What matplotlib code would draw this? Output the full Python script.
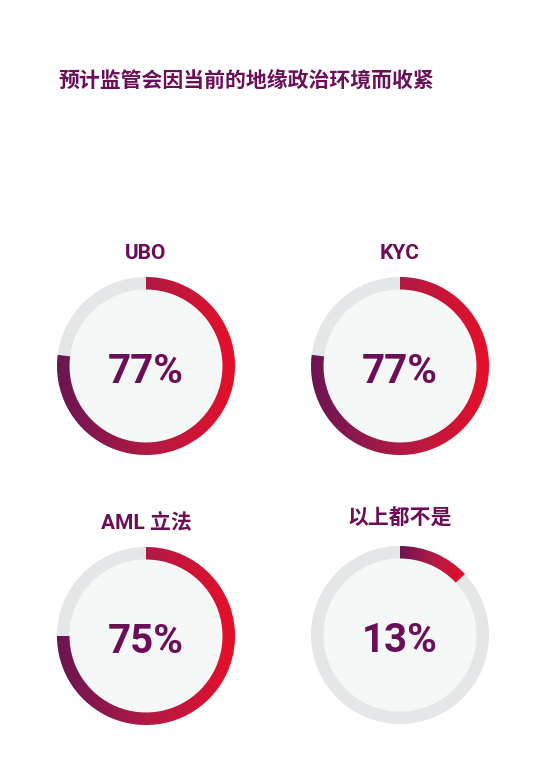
import numpy as np
import matplotlib
matplotlib.use('Agg')
import matplotlib.pyplot as plt
from matplotlib.patches import Wedge, Circle
from matplotlib.colors import LinearSegmentedColormap

plt.rcParams['font.family'] = ['Roboto', 'Noto Sans CJK SC', 'DejaVu Sans']

title = '预计监管会因当前的地缘政治环境而收紧'
labels = ['UBO', 'KYC', 'AML 立法', '以上都不是']
values = [77, 77, 75, 13]

txt_col = '#6c0e57'
ring_col = '#e5e6e8'
fill_col = '#f6f8f8'
grad = LinearSegmentedColormap.from_list('g', ['#6a1553', '#b01a45', '#e60f2a'])

centers = [(146, 366), (400, 366), (146, 636), (400, 635)]
label_y = [253, 253, 523, 519]
R, W = 89, 12.5

fig = plt.figure(figsize=(5.42, 7.84), dpi=100)
ax = fig.add_axes([0, 0, 1, 1])
ax.set_xlim(0, 542)
ax.set_ylim(784, 0)
ax.axis('off')

ax.text(58, 80, title, fontsize=15, fontweight='bold', color=txt_col,
        ha='left', va='center')

for (cx, cy), ly, lab, v in zip(centers, label_y, labels, values):
    ax.add_patch(Circle((cx, cy), R - W, color=fill_col, lw=0, zorder=1))
    ax.add_patch(Wedge((cx, cy), R, 0, 360, width=W, color=ring_col, lw=0, zorder=1))
    t1, t2 = -90, -90 + 360 * v / 100
    wedge = Wedge((cx, cy), R, t1, t2, width=W, facecolor='none', lw=0)
    ax.add_patch(wedge)
    th = np.radians(np.linspace(t1, t2, 200))
    xs = np.concatenate([cx + R * np.cos(th), cx + (R - W) * np.cos(th)])
    x0, x1 = xs.min(), xs.max()
    g = np.linspace(0, 1, 256).reshape(1, -1)
    im = ax.imshow(g, cmap=grad, extent=[x0, x1, cy + R, cy - R],
                   aspect='auto', interpolation='bilinear', zorder=3)
    im.set_clip_path(wedge)
    ax.text(cx, cy + 6, f'{v}%', fontsize=29, fontweight='bold', color=txt_col,
            ha='center', va='center', zorder=4)
    ax.text(cx, ly, lab, fontsize=15, fontweight='bold', color=txt_col,
            ha='center', va='center')

ax.set_xlim(0, 542)
ax.set_ylim(784, 0)
fig.savefig('out.png', dpi=100)
